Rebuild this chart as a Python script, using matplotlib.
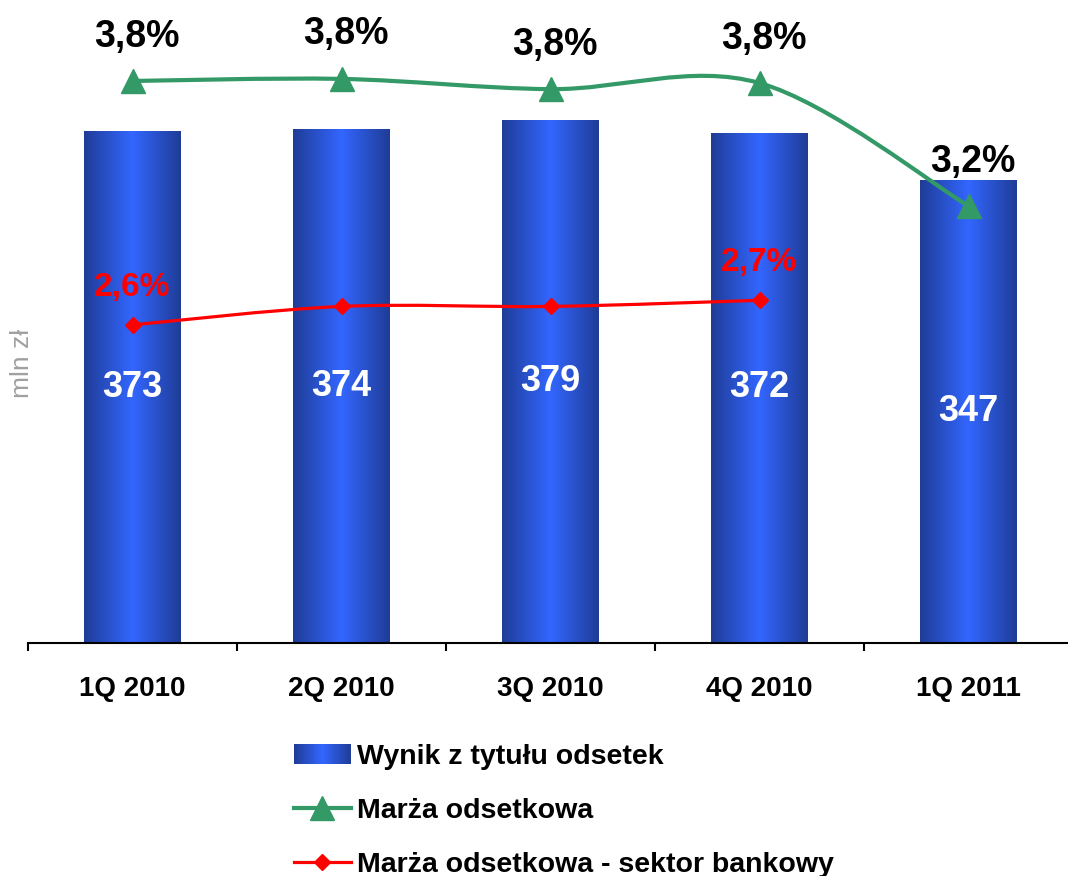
import numpy as np
import matplotlib
matplotlib.use('Agg')
import matplotlib.pyplot as plt
from matplotlib.path import Path
from matplotlib.patches import PathPatch, Rectangle
from matplotlib.lines import Line2D
from matplotlib.legend_handler import HandlerBase
from matplotlib.colors import LinearSegmentedColormap

plt.rcParams['font.family'] = ['Liberation Sans', 'DejaVu Sans']

# data
quarters = ['1Q 2010', '2Q 2010', '3Q 2010', '4Q 2010', '1Q 2011']
wynik = [373, 374, 379, 372, 347]            # mln zl
marza = [3.81, 3.82, 3.77, 3.80, 3.20]       # %
marza_sektor = [2.62, 2.71, 2.71, 2.74]      # %, no value for 1Q 2011
sektor_labelled = [0, 3]

names = ['Wynik z tytułu odsetek', 'Marża odsetkowa',
         'Marża odsetkowa - sektor bankowy']

GREEN = '#339966'
RED = '#ff0000'
bar_cmap = LinearSegmentedColormap.from_list('bar', ['#1f3c96', '#3366ff', '#1f3c96'])

Y_BOTTOM = 102


def smooth_path(xs, ys):
    # excel style smoothed line -> bezier control points
    pts = np.column_stack([xs, ys]).astype(float)
    n = len(pts)
    verts = [pts[0]]
    codes = [Path.MOVETO]
    for i in range(n - 1):
        p0 = pts[max(i - 1, 0)]
        p1 = pts[i]
        p2 = pts[i + 1]
        p3 = pts[min(i + 2, n - 1)]
        verts += [p1 + (p2 - p0) / 6, p2 - (p3 - p1) / 6, p2]
        codes += [Path.CURVE4] * 3
    return Path(verts, codes)


class GradientHandler(HandlerBase):
    def create_artists(self, legend, orig_handle, xdescent, ydescent,
                       width, height, fontsize, trans):
        n = 40
        arts = []
        for k in range(n):
            r = Rectangle((-xdescent + width * k / n, -ydescent), width / n * 1.05, height,
                          facecolor=bar_cmap((k + 0.5) / n), edgecolor='none', transform=trans)
            arts.append(r)
        return arts


fig = plt.figure(figsize=(10.68, 8.76), dpi=100)
ax = fig.add_axes([28 / 1068, 233 / 876, 1045 / 1068, 643 / 876])
x = np.arange(len(quarters))

bars = ax.bar(x, wynik, width=0.464, color='none', edgecolor='none', zorder=2)
gradient = np.linspace(0, 1, 256).reshape(1, -1)
for b in bars:
    x0, w, h = b.get_x(), b.get_width(), b.get_height()
    im = ax.imshow(gradient, cmap=bar_cmap, extent=[x0, x0 + w, Y_BOTTOM, h],
                   aspect='auto', zorder=1, interpolation='bilinear')
    im.set_clip_path(b)

for xi, v in zip(x, wynik):
    ax.text(xi, (Y_BOTTOM + v) / 2, str(v), ha='center', va='center',
            color='white', fontsize=26, fontweight='bold', zorder=3)

ax.set_xlim(-0.5, 4.5)
ax.set_ylim(Y_BOTTOM, 442.4)
for s in ['top', 'left', 'right']:
    ax.spines[s].set_visible(False)
ax.spines['bottom'].set_linewidth(1.5)
ax.set_yticks([])
ax.set_xticks(np.arange(-0.5, 5, 1))
ax.set_xticklabels([])
ax.tick_params(axis='x', which='major', direction='out', length=6, width=1.5)
ax.set_xticks(x, minor=True)
ax.set_xticklabels(quarters, minor=True, fontsize=20, fontweight='bold')
ax.tick_params(axis='x', which='minor', length=0, pad=24)

fig.text(22 / 1068, 1 - 363 / 876, 'mln zł', rotation=90, color='#a0a0a0',
         fontsize=19, ha='center', va='center')

# margins on secondary axis
ax2 = ax.twinx()
ax2.set_ylim(1.068, 4.205)
ax2.set_xlim(-0.5, 4.5)
for s in ax2.spines.values():
    s.set_visible(False)
ax2.set_yticks([])

ax2.add_patch(PathPatch(smooth_path(x, marza), fill=False, edgecolor=GREEN,
                        lw=3, capstyle='round', zorder=3))
ax2.plot(x, marza, ls='none', marker='^', ms=17, color=GREEN, zorder=4)

xs = x[:len(marza_sektor)]
ax2.add_patch(PathPatch(smooth_path(xs, marza_sektor), fill=False, edgecolor=RED,
                        lw=2.3, capstyle='round', zorder=3))
ax2.plot(xs, marza_sektor, ls='none', marker='D', ms=8, color=RED, zorder=4)

for xi, v in zip(x, marza):
    ax2.annotate(f'{v:.1f}%'.replace('.', ','), (xi, v), xytext=(3, 32),
                 textcoords='offset points', ha='center', va='center',
                 fontsize=27, fontweight='bold')
for i in sektor_labelled:
    v = marza_sektor[i]
    ax2.annotate(f'{v:.1f}%'.replace('.', ','), (xs[i], v), xytext=(0, 27),
                 textcoords='offset points', ha='center', va='center',
                 fontsize=24, fontweight='bold', color=RED)

handles = [Rectangle((0, 0), 1, 1),
           Line2D([], [], color=GREEN, lw=3, marker='^', ms=17),
           Line2D([], [], color=RED, lw=2.3, marker='D', ms=8)]
fig.legend(handles, names, handler_map={Rectangle: GradientHandler()},
           loc='upper left', bbox_to_anchor=(294 / 1068, 1 - 744 / 876),
           frameon=False, prop={'weight': 'bold', 'size': 20.5},
           handlelength=2.0, handletextpad=0.2, labelspacing=0.98,
           borderpad=0, borderaxespad=0)

fig.savefig('out.png', dpi=100)
